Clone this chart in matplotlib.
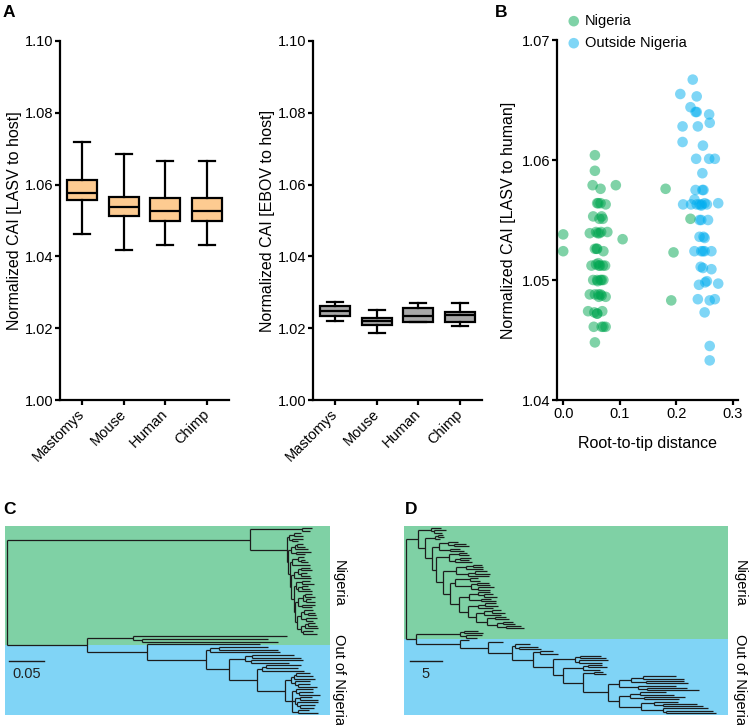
import matplotlib
matplotlib.use('Agg')
import matplotlib.pyplot as plt
import matplotlib.transforms as mtransforms
from matplotlib.collections import LineCollection

plt.rcParams['font.family'] = ['Liberation Sans', 'DejaVu Sans']

# ---- panel A: codon adaptation index box plots ----
hosts = ['Mastomys', 'Mouse', 'Human', 'Chimp']

lasv_whislo = [1.0463, 1.0418, 1.0433, 1.0433]
lasv_q1 = [1.0557, 1.0513, 1.0499, 1.0499]
lasv_med = [1.0576, 1.0538, 1.0526, 1.0527]
lasv_q3 = [1.0612, 1.0565, 1.0562, 1.0562]
lasv_whishi = [1.0718, 1.0685, 1.0667, 1.0667]

ebov_whislo = [1.0221, 1.0186, 1.0216, 1.0206]
ebov_q1 = [1.0234, 1.0209, 1.0218, 1.0218]
ebov_med = [1.0248, 1.0220, 1.0234, 1.0237]
ebov_q3 = [1.0262, 1.0228, 1.0255, 1.0246]
ebov_whishi = [1.0274, 1.0251, 1.0271, 1.0271]

# ---- panel B: root-to-tip distance vs CAI ----
nig_x = [0.000, 0.000, 0.056, 0.056, 0.052, 0.066, 0.093, 0.060, 0.066, 0.075,
         0.053, 0.064, 0.070, 0.047, 0.058, 0.064, 0.078, 0.105, 0.056, 0.060,
         0.071, 0.050, 0.058, 0.065, 0.070, 0.074, 0.053, 0.060, 0.066, 0.071,
         0.047, 0.056, 0.062, 0.068, 0.075, 0.044, 0.055, 0.060, 0.054, 0.068,
         0.075, 0.056, 0.181, 0.225, 0.195, 0.191,
         0.062, 0.068, 0.061, 0.067, 0.059, 0.063, 0.062, 0.068, 0.061, 0.066,
         0.063, 0.069, 0.060, 0.071]
nig_y = [1.0538, 1.0524, 1.0604, 1.0591, 1.0579, 1.0576, 1.0579, 1.0564, 1.0564, 1.0563,
         1.0553, 1.0551, 1.0551, 1.0539, 1.0540, 1.0539, 1.0540, 1.0534, 1.0526, 1.0526,
         1.0524, 1.0512, 1.0513, 1.0512, 1.0512, 1.0512, 1.0500, 1.0500, 1.0500, 1.0500,
         1.0488, 1.0488, 1.0488, 1.0487, 1.0486, 1.0474, 1.0473, 1.0472, 1.0461, 1.0461,
         1.0461, 1.0448, 1.0576, 1.0551, 1.0523, 1.0483,
         1.0564, 1.0553, 1.0539, 1.0540, 1.0526, 1.0512, 1.0514, 1.0500, 1.0499, 1.0488,
         1.0486, 1.0474, 1.0472, 1.0461]

out_x = [0.229, 0.207, 0.236, 0.225, 0.234, 0.258, 0.259, 0.211, 0.238, 0.211,
         0.247, 0.235, 0.258, 0.268, 0.246, 0.234, 0.248, 0.212, 0.226, 0.241,
         0.254, 0.274, 0.232, 0.245, 0.241, 0.256, 0.241, 0.250, 0.232, 0.247,
         0.262, 0.247, 0.262, 0.240, 0.254, 0.274, 0.238, 0.259, 0.268, 0.250,
         0.259, 0.259, 0.236, 0.244,
         0.236, 0.244, 0.250, 0.246, 0.244, 0.250, 0.243, 0.251, 0.248]
out_y = [1.0667, 1.0655, 1.0653, 1.0644, 1.0640, 1.0638, 1.0631, 1.0628, 1.0628, 1.0615,
         1.0612, 1.0601, 1.0601, 1.0601, 1.0589, 1.0575, 1.0575, 1.0563, 1.0563, 1.0563,
         1.0563, 1.0564, 1.0567, 1.0563, 1.0550, 1.0550, 1.0536, 1.0535, 1.0524, 1.0524,
         1.0524, 1.0510, 1.0509, 1.0496, 1.0499, 1.0497, 1.0484, 1.0483, 1.0484, 1.0473,
         1.0445, 1.0433, 1.0640, 1.0550,
         1.0563, 1.0562, 1.0564, 1.0575, 1.0524, 1.0524, 1.0511, 1.0498, 1.0536]

# ---- panels C, D: phylogenies (newick) ----
# C: substitution tree (root -> Nigeria clade, out-of-Nigeria clade)
C_nig_sub = [
    '((:0.010,:0.014):0.006,(:0.016,:0.009):0.004)',
    '(((:0.008,:0.011):0.003,:0.018):0.005,(:0.021,:0.012):0.007)',
    '((:0.009,(:0.006,:0.010):0.004):0.008,:0.026)',
    '(((:0.012,:0.015):0.004,(:0.009,:0.013):0.003):0.006,:0.024)',
    '((:0.011,:0.017):0.009,((:0.008,:0.012):0.005,:0.020):0.004)',
    '(((:0.010,:0.014):0.003,(:0.007,:0.012):0.005):0.007,(:0.019,:0.015):0.006)',
    '((:0.013,(:0.009,:0.011):0.006):0.005,(:0.016,:0.010):0.008)',
    '(((:0.009,:0.012):0.004,:0.018):0.006,(:0.014,:0.020):0.003)',
]
C_nig = ('((:0.014,:0.011):0.074,({0}:0.004,({1}:0.005,({2}:0.003,({3}:0.004,'
         '({4}:0.003,({5}:0.004,({6}:0.005,{7}:0.006):0.003):0.002):0.003):0.002)'
         ':0.003):0.002):0.052):0.347').format(*C_nig_sub)
C_out_R4a = '(((:0.020,:0.025):0.003,:0.030):0.004,(:0.022,(:0.018,:0.027):0.004):0.006)'
C_out_R4b = ('((:0.025,(:0.020,:0.030):0.005):0.005,((:0.018,:0.026):0.007,'
             '(:0.030,(:0.022,:0.020):0.004):0.003):0.004,(:0.015,:0.028):0.009)')
C_out = ('((:0.220,(:0.180,:0.195):0.012):0.066,(:0.161,(((:0.070,:0.085):0.012,:0.100):0.006,'
         '(((:0.060,:0.070):0.010,(:0.075,:0.055):0.008):0.023,(((:0.050,:0.045):0.006,:0.060):0.007,'
         '(' + C_out_R4a + ':0.008,' + C_out_R4b + ':0.010):0.040):0.040):0.033):0.084):0.086):0.114')
TREE_C = '(' + C_nig + ',' + C_out + ');'

# D: time tree (years)
D_nig_sub = [
    '(:1.6,(:1.9,:1.3):0.5)',
    '((:0.8,:1.0):0.4,:0.7)',
    '((:1.5,(:1.8,:2.3):0.9):1.4,(:1.6,:2.2):1.6)',
    '((:1.2,:1.6):1.6,((:1.8,:1.4):0.7,:2.6):1.0)',
    '(((:1.3,:1.6):1.2,:2.8):1.5,((:1.8,:2.4):1.1,:3.2):1.9)',
    '((:1.2,:1.5):2.4,((:1.8,:2.1):0.9,(:2.6,:2.0):1.0):2.6)',
    '((:1.9,(:1.4,:2.0):1.0):1.3,(:1.6,:2.3):1.8)',
    '((:1.6,:2.0):1.2,:2.4)',
    '((:1.5,:2.1):1.2,:2.6)',
    '((:1.8,:2.2):1.3,((:1.5,:1.9):1.0,(:2.4,:2.8):1.4):1.6)',
]
D_nig = ('({0}:2.0,({1}:1.7,({2}:1.2,({3}:2.0,({4}:2.0,({5}:0.8,({6}:1.6,({7}:1.5,'
         '({8}:1.2,{9}:1.6):1.3):1.4):1.5):1.0):1.1):0.7):1.1):1.0):1.9').format(*D_nig_sub)
D_out_sub = [
    '((:2.2,:3.0):0.6,(:2.6,:1.8):0.9)',
    '(:2.2,(:2.9,:3.4):0.6)',
    '(:2.0,:2.9)',
    '((:3.2,:4.0):0.8,(:4.6,:3.6):0.6)',
    '((:2.2,:3.0):0.7,:2.6)',
    '(:1.4,:1.8)',
    '(((:5.2,:6.4):1.8,(:5.9,:6.6):2.3):2.0,(:6.0,(:6.2,:8.1):1.5):3.0)',
    '(((:4.0,:5.2):1.6,(:6.4,:5.5):2.2):1.8,((:3.8,(:5.2,:6.2):1.5):2.0,'
    '(:7.0,(:7.4,:7.8):0.5):3.4):3.5)',
]
D_out = ('({0}:6.9,(:1.5,(:2.3,({1}:0.5,({2}:1.0,({3}:3.4,({4}:3.1,({5}:1.7,'
         '({6}:1.6,{7}:1.6):3.9):3.1):1.6):3.1):3.3):3.8):4.4):6.9):1.5').format(*D_out_sub)
TREE_D = '(' + D_nig + ',' + D_out + ');'

GREEN = '#7fd1a5'
BLUE = '#80d4f6'


def parse_newick(s):
    s = s.replace(' ', '').rstrip(';')
    pos = 0

    def node():
        nonlocal pos
        kids = []
        if s[pos] == '(':
            pos += 1
            kids.append(node())
            while s[pos] == ',':
                pos += 1
                kids.append(node())
            pos += 1
        start = pos
        while pos < len(s) and s[pos] not in ',()':
            pos += 1
        lab = s[start:pos]
        ln = float(lab.split(':')[1]) if ':' in lab else 0.0
        return {'kids': kids, 'len': ln}
    return node()


def layout(n, x0, tips):
    n['x'] = x0 + n['len']
    if not n['kids']:
        n['y'] = len(tips)
        tips.append(n)
    else:
        for k in n['kids']:
            layout(k, n['x'], tips)
        n['y'] = (n['kids'][0]['y'] + n['kids'][-1]['y']) / 2


def segments(n, out):
    if n['kids']:
        out.append([(n['x'], n['kids'][0]['y']), (n['x'], n['kids'][-1]['y'])])
        for k in n['kids']:
            out.append([(n['x'], k['y']), (k['x'], k['y'])])
            segments(k, out)
    return out


W, H = 750, 725
fig = plt.figure(figsize=(7.5, 7.25), dpi=100)


def rect(x0, y0, x1, y1):
    return [x0 / W, 1 - y1 / H, (x1 - x0) / W, (y1 - y0) / H]


def px(x, y):
    return x / W, 1 - y / H


def style(ax):
    for s in ['top', 'right']:
        ax.spines[s].set_visible(False)
    for s in ['left', 'bottom']:
        ax.spines[s].set_linewidth(1.6)
    ax.tick_params(width=1.6, length=3.5, labelsize=10.5, pad=1.5)


def boxpanel(ax, lo, q1, med, q3, hi, color, ylabel):
    stats = [dict(whislo=a, q1=b, med=c, q3=d, whishi=e) for a, b, c, d, e in zip(lo, q1, med, q3, hi)]
    lp = dict(color='black', linewidth=1.6)
    ax.bxp(stats, positions=range(len(hosts)), widths=0.72, capwidths=0.38, patch_artist=True,
           showfliers=False, boxprops=dict(facecolor=color, edgecolor='black', linewidth=1.6),
           whiskerprops=lp, capprops=lp, medianprops=lp)
    style(ax)
    ax.set_xlim(-0.53, 3.53)
    ax.set_ylim(1.0, 1.1)
    ticks = [1.00, 1.02, 1.04, 1.06, 1.08, 1.10]
    ax.set_yticks(ticks)
    ax.set_yticklabels(['%.2f' % t for t in ticks])
    ax.set_xticks(range(len(hosts)))
    ax.set_xticklabels(hosts, rotation=45, ha='right', va='center', rotation_mode='anchor',
                       fontsize=10.5)
    ax.tick_params(axis='x', pad=5)
    ax.set_ylabel(ylabel, fontsize=11.5, labelpad=1.5)


ax1 = fig.add_axes(rect(60, 41, 229, 400))
boxpanel(ax1, lasv_whislo, lasv_q1, lasv_med, lasv_q3, lasv_whishi, '#fdcb91',
         'Normalized CAI [LASV to host]')
ax2 = fig.add_axes(rect(313, 41, 482, 400))
boxpanel(ax2, ebov_whislo, ebov_q1, ebov_med, ebov_q3, ebov_whishi, '#a8a8a8',
         'Normalized CAI [EBOV to host]')

axb = fig.add_axes(rect(557, 40, 738, 400))
so = axb.scatter(out_x, out_y, s=58, color='#00aeef', alpha=0.5, edgecolors='none',
                 label='Outside Nigeria')
sn = axb.scatter(nig_x, nig_y, s=58, color='#00a651', alpha=0.5, edgecolors='none',
                 label='Nigeria')
style(axb)
axb.set_xlim(-0.011, 0.309)
axb.set_ylim(1.04, 1.07)
axb.set_xticks([0.0, 0.1, 0.2, 0.3])
axb.set_xticklabels(['0.0', '0.1', '0.2', '0.3'])
axb.set_yticks([1.04, 1.05, 1.06, 1.07])
axb.set_yticklabels(['1.04', '1.05', '1.06', '1.07'])
axb.set_xlabel('Root-to-tip distance', fontsize=11.5, labelpad=11)
axb.set_ylabel('Normalized CAI [LASV to human]', fontsize=11.5, labelpad=4)
fig.legend(handles=[sn, so], loc='upper left', bbox_to_anchor=px(565, 14), frameon=False,
           fontsize=10.5, handletextpad=0.15, borderpad=0, borderaxespad=0,
           labelspacing=0.55, handlelength=1.2)


def treepanel(box, newick, xlim, bar_len, bar_x0, bar_label, label_x):
    ax = fig.add_axes(rect(*box))
    root = parse_newick(newick)
    tips = []
    layout(root, 0.0, tips)
    n = len(tips)
    u = (n - 1) / (box[3] - box[1] - 4)
    top, bot = -2 * u, n - 1 + 2 * u
    split = root['kids'][1]['y']
    ax.axhspan(top, split, color=GREEN, lw=0)
    ax.axhspan(split, bot, color=BLUE, lw=0)
    ax.add_collection(LineCollection(segments(root, []), colors='#1c1c1c', linewidths=0.9))
    ax.set_xlim(*xlim)
    ax.set_ylim(bot, top)
    ax.set_axis_off()
    tr = mtransforms.blended_transform_factory(ax.transData, ax.transAxes)
    ax.plot([bar_x0, bar_x0 + bar_len], [0.285, 0.285], color='#1c1c1c', lw=1.0, transform=tr)
    ax.text(bar_x0 + bar_len / 2, 0.215, bar_label, transform=tr, ha='center', va='center',
            fontsize=10.5, color='#222222')
    fig.text(*px(label_x, 583), 'Nigeria', rotation=270, ha='center', va='center', fontsize=10.5)
    fig.text(*px(label_x, 634), 'Out of Nigeria', rotation=270, ha='center', va='top', fontsize=10.5)


treepanel((5, 526, 330, 715), TREE_C, (-0.003, 0.461), 0.05, 0.003, '0.05', 339)
treepanel((404, 526, 728, 715), TREE_D, (-0.31, 50.3), 5, 0.6, '5', 740)

for lab, x, y in [('A', 3, 5), ('B', 495, 5), ('C', 3, 502), ('D', 405, 502)]:
    fig.text(*px(x, y), lab, fontsize=12.5, fontweight='bold', ha='left', va='top')

fig.savefig('out.png', dpi=100)
